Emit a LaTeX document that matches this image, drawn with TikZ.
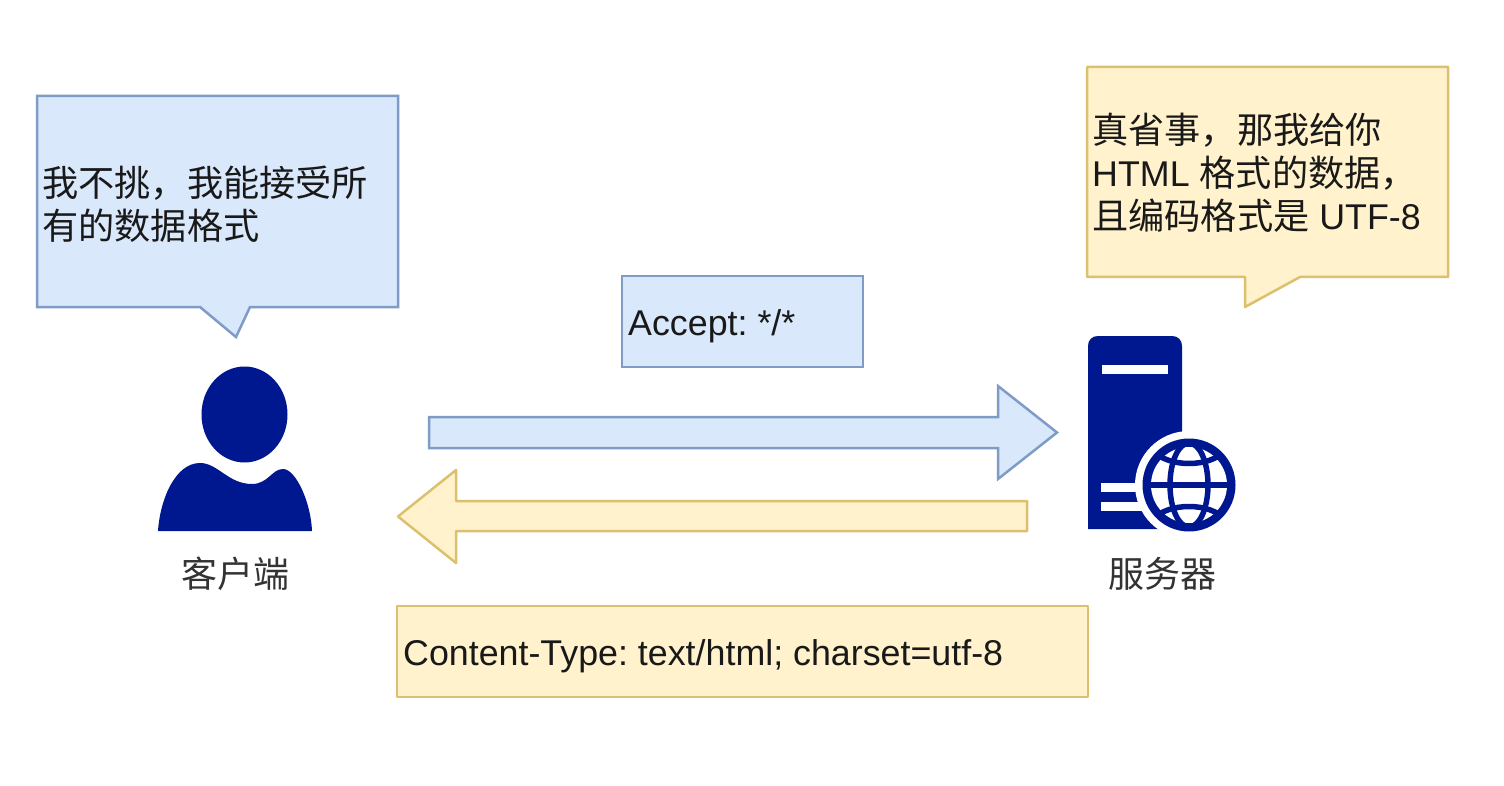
\documentclass[tikz,border=0pt]{standalone}
\usepackage{fontspec}
\setmainfont{Liberation Sans}
\newfontfamily\cjk{Noto Sans CJK SC}
\definecolor{bluefill}{HTML}{DAE8FC}
\definecolor{bluedraw}{HTML}{7F9CC6}
\definecolor{yelfill}{HTML}{FFF2CC}
\definecolor{yeldraw}{HTML}{DCC06E}
\definecolor{navy}{HTML}{00188F}
\definecolor{labelc}{HTML}{333333}
\tikzset{
  bluebox/.style={draw=bluedraw,fill=bluefill,line width=2.5pt,line join=miter},
  yelbox/.style={draw=yeldraw,fill=yelfill,line width=2.5pt,line join=round},
  txt/.style={anchor=west,align=left,inner sep=0pt,font=\fontsize{35.8pt}{43pt}\selectfont\frenchspacing,text=black!90},
  caption/.style={anchor=center,inner sep=0pt,font=\fontsize{36pt}{43pt}\selectfont\cjk,text=labelc},
  icon/.style={fill=navy,draw=none}
}
\newcommand{\zh}[1]{{\fontsize{36.2pt}{43pt}\selectfont\cjk #1}}
\begin{document}
\begin{tikzpicture}[x=1pt,y=-1pt]
\useasboundingbox[fill=white] (0,0) rectangle (1504,786);
% left callout
\draw[bluebox] (37,96) -- (398,96) -- (398,307) -- (250,307) -- (236,337) -- (200,307) -- (37,307) -- cycle;
\node[txt] (ask) at (42,204.5) {\zh{我不挑，我能接受所}\\\zh{有的数据格式}};
% right callout
\draw[yelbox] (1087,67) -- (1448,67) -- (1448,277) -- (1300,277) -- (1245,307) -- (1245,277) -- (1087,277) -- cycle;
\node[txt] (reply) at (1092,173) {\zh{真省事，那我给你}\\HTML \zh{格式的数据，}\\\zh{且编码格式是} UTF-8};
% header boxes
\node[bluebox,minimum width=241pt,minimum height=91pt,inner sep=0pt] (accept) at (742.5,321.5) {};
\node[txt] (accepttxt) at (628,326) {Accept: */*};
\node[yelbox,minimum width=691pt,minimum height=91pt,inner sep=0pt] (ctype) at (742.5,651.5) {};
\node[txt] (ctypetxt) at (403,656) {Content-Type: text/html; charset=utf-8};
% block arrows
\draw[bluebox] (429,417) -- (998,417) -- (998,386) -- (1057,432.5) -- (998,479) -- (998,448) -- (429,448) -- cycle;
\draw[yelbox] (1027,501) -- (456,501) -- (456,470) -- (398,516.5) -- (456,563) -- (456,531) -- (1027,531) -- cycle;
% person
\fill[icon] (244.5,414.5) ellipse [x radius=43, y radius=48];
\fill[icon] (158,531) .. controls (160,500) and (175,463) .. (200,463)
  .. controls (218,463) and (228,484) .. (252,484)
  .. controls (268,484) and (272,469) .. (283,469)
  .. controls (296,469) and (311,503) .. (312,531) -- cycle;
\node[caption] (client) at (235,574) {客户端};
% server
\fill[icon] (1088,529) -- (1088,346) .. controls (1088,340) and (1092,336) .. (1098,336)
  -- (1172,336) .. controls (1178,336) and (1182,340) .. (1182,346) -- (1182,529) -- cycle;
\fill[white] (1102,365) rectangle (1168,374);
\fill[white] (1101,483) rectangle (1150,492);
\fill[white] (1101,502) rectangle (1150,511);
\fill[white] (1189,485) circle [radius=54];
\fill[white] (1140,530) rectangle (1195,545);
\fill[icon] (1189,485) circle [radius=46.5];
\fill[white] (1189,485) circle [radius=38];
\begin{scope}
\clip (1189,485) circle [radius=40];
\draw[navy,line width=5.5pt] (1189,485) ellipse [x radius=19, y radius=42];
\draw[navy,line width=5.5pt] (1140,485) -- (1238,485);
\draw[navy,line width=5.5pt] (1152,450) .. controls (1168,468) and (1210,468) .. (1226,450);
\draw[navy,line width=5.5pt] (1152,520) .. controls (1168,502) and (1210,502) .. (1226,520);
\end{scope}
\node[caption] (server) at (1162,574) {服务器};
\end{tikzpicture}
\end{document}
